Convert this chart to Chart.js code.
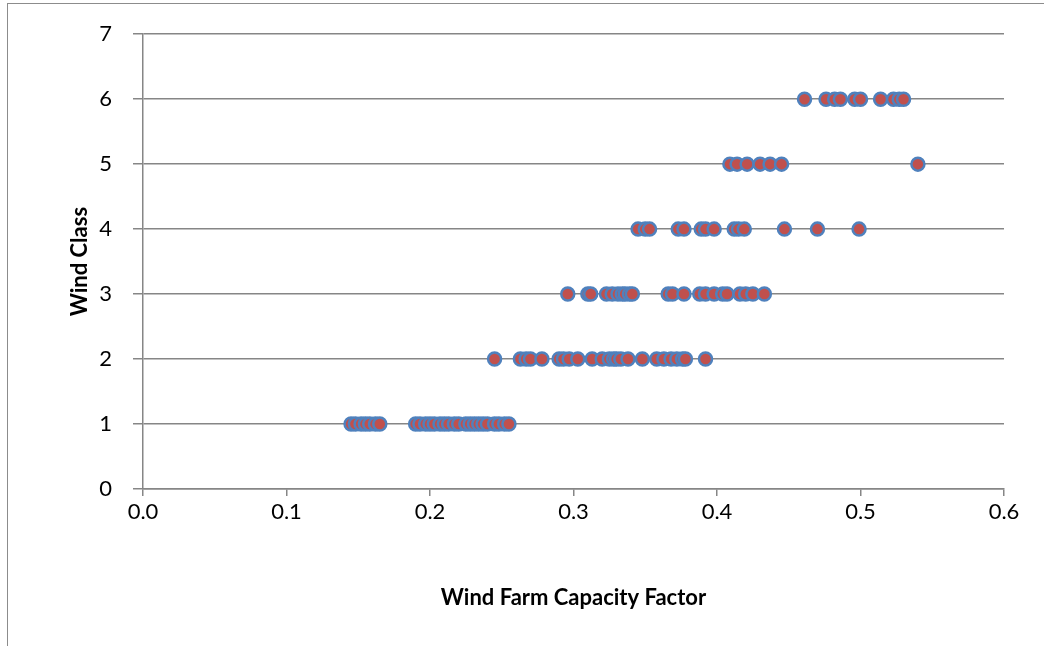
<!DOCTYPE html>
<html>
<head>
<meta charset="utf-8">
<script src="https://cdn.jsdelivr.net/npm/chart.js@4/dist/chart.umd.min.js"></script>
<style>
  html, body { margin: 0; padding: 0; background: #fff; }
  #wrap { width: 1044px; height: 646px; }
</style>
</head>
<body>
<div id="wrap"><canvas id="windChart"></canvas></div>
<script>
// capacity factors, one list per wind class
const class1 = [0.145, 0.148, 0.152, 0.155, 0.158, 0.162, 0.165,
                0.190, 0.193, 0.197, 0.200, 0.203, 0.207, 0.210, 0.213, 0.217, 0.220,
                0.225, 0.228, 0.231, 0.234, 0.237, 0.240, 0.245, 0.248, 0.252, 0.255];
const class2 = [0.245, 0.263, 0.267, 0.270, 0.278, 0.290, 0.293, 0.297, 0.303, 0.313,
                0.320, 0.325, 0.328, 0.330, 0.333, 0.338, 0.348, 0.358, 0.363, 0.368,
                0.372, 0.376, 0.378, 0.392];
const class3 = [0.296, 0.310, 0.312, 0.323, 0.327, 0.331, 0.334, 0.336, 0.339, 0.341,
                0.366, 0.369, 0.377, 0.388, 0.392, 0.398, 0.404, 0.407, 0.416, 0.420,
                0.425, 0.433];
const class4 = [0.345, 0.350, 0.353, 0.373, 0.377, 0.389, 0.392, 0.398, 0.412, 0.415,
                0.419, 0.447, 0.470, 0.499];
const class5 = [0.409, 0.414, 0.421, 0.430, 0.437, 0.445, 0.540];
const class6 = [0.461, 0.476, 0.482, 0.486, 0.496, 0.500, 0.514, 0.523, 0.527, 0.530];

const windClasses = [1, 2, 3, 4, 5, 6];
const xTicks = [0.0, 0.1, 0.2, 0.3, 0.4, 0.5, 0.6];
const yTicks = [0, 1, 2, 3, 4, 5, 6, 7];

const points = [];
[class1, class2, class3, class4, class5, class6].forEach(function(list, i) {
    list.forEach(function(cf) {
        points.push({ x: cf, y: windClasses[i] });
    });
});

// grey frame round the chart, cut off at right and bottom like the original
const framePlugin = {
    id: 'frame',
    beforeDraw: function(chart) {
        const c = chart.ctx;
        c.save();
        c.strokeStyle = '#8c8c8c';
        c.lineWidth = 1;
        c.strokeRect(7.5, 3.5, 1200, 800);
        c.restore();
    }
};

Chart.defaults.font.family = 'Lato, Carlito, "Liberation Sans", sans-serif';
Chart.defaults.color = '#000';

new Chart(document.getElementById('windChart'), {
    type: 'scatter',
    data: {
        datasets: [{
            label: 'Wind Class',
            data: points,
            pointRadius: 6.5,
            pointHoverRadius: 6.5,
            pointBackgroundColor: '#C0504D',
            pointBorderColor: '#4F81BD',
            pointBorderWidth: 2.5
        }]
    },
    options: {
        responsive: true,
        maintainAspectRatio: false,
        animation: false,
        layout: { padding: { top: 34, right: 40, left: 0, bottom: 0 } },
        plugins: {
            legend: { display: false },
            tooltip: { enabled: false }
        },
        scales: {
            x: {
                type: 'linear',
                min: 0,
                max: 0.6,
                afterBuildTicks: function(scale) {
                    scale.ticks = xTicks.map(function(v) { return { value: v }; });
                },
                afterFit: function(scale) { scale.height = 157; },
                ticks: {
                    font: { size: 22 },
                    padding: 3,
                    callback: function(v) { return v.toFixed(1); }
                },
                grid: {
                    drawOnChartArea: false,
                    color: '#868686',
                    lineWidth: 1.5,
                    tickLength: 7
                },
                border: { color: '#868686', width: 1.5 },
                title: {
                    display: true,
                    text: 'Wind Farm Capacity Factor',
                    font: { size: 22, weight: 'bold' },
                    padding: { top: 0, bottom: 35 }
                }
            },
            y: {
                type: 'linear',
                min: 0,
                max: 7,
                afterBuildTicks: function(scale) {
                    scale.ticks = yTicks.map(function(v) { return { value: v }; });
                },
                afterFit: function(scale) { scale.width = 143; },
                ticks: {
                    font: { size: 22 },
                    padding: 21
                },
                grid: {
                    color: '#868686',
                    lineWidth: 1.5,
                    tickLength: 10
                },
                border: { color: '#868686', width: 1.5 },
                title: {
                    display: true,
                    text: 'Wind Class',
                    font: { size: 22, weight: 'bold' },
                    padding: { top: 67, bottom: 0 }
                }
            }
        }
    },
    plugins: [framePlugin]
});
</script>
</body>
</html>
